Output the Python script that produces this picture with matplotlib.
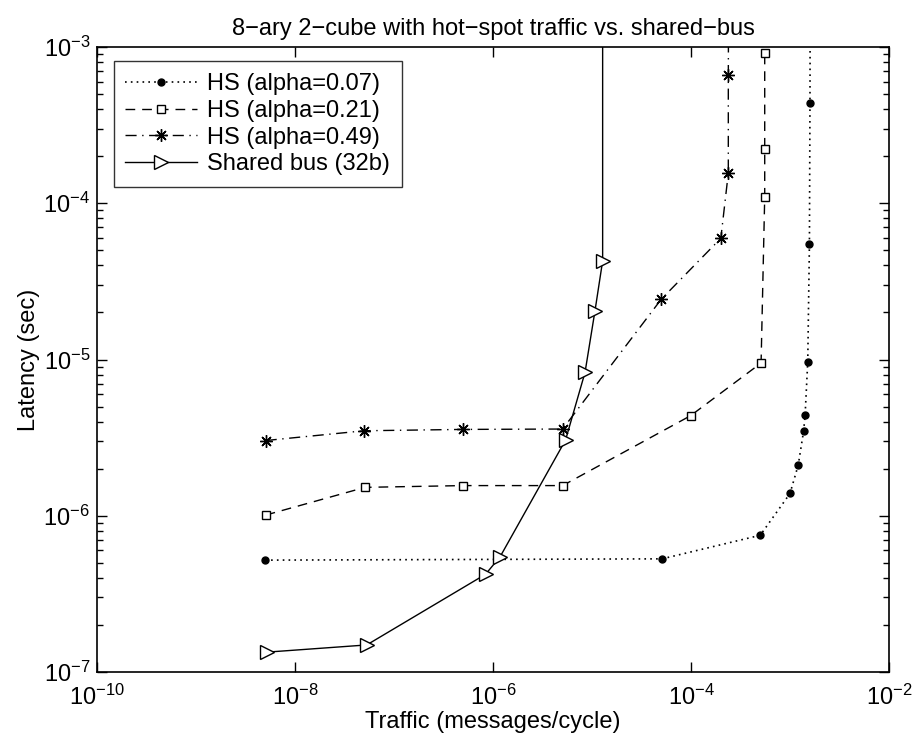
import matplotlib
matplotlib.use("Agg")
import matplotlib.pyplot as plt
from matplotlib.ticker import FixedLocator, LogLocator, NullLocator, LogFormatterMathtext

plt.rcParams['font.family'] = 'Liberation Sans'
plt.rcParams['mathtext.fontset'] = 'custom'
plt.rcParams['mathtext.rm'] = 'Liberation Sans'
plt.rcParams['mathtext.it'] = 'Liberation Sans'
plt.rcParams['axes.unicode_minus'] = True

# HS alpha=0.07
hs07_x = [5e-9, 5.1e-5, 5e-4, 1.0e-3, 1.21e-3, 1.37e-3, 1.42e-3, 1.51e-3, 1.57e-3, 1.59e-3, 1.6e-3]
hs07_y = [5.2e-7, 5.3e-7, 7.5e-7, 1.39e-6, 2.11e-6, 3.47e-6, 4.4e-6, 9.7e-6, 5.5e-5, 4.36e-4, 3e-3]
# HS alpha=0.21
hs21_x = [5.05e-9, 5.1e-8, 5.0e-7, 5.05e-6, 9.9e-5, 5.1e-4, 5.55e-4, 5.55e-4, 5.55e-4]
hs21_y = [1.01e-6, 1.52e-6, 1.56e-6, 1.56e-6, 4.37e-6, 9.5e-6, 1.1e-4, 2.22e-4, 9.2e-4]
# HS alpha=0.49
hs49_x = [5.05e-9, 5.0e-8, 5.0e-7, 5.05e-6, 5.0e-5, 2.0e-4, 2.38e-4, 2.38e-4, 2.4e-4]
hs49_y = [3.03e-6, 3.5e-6, 3.57e-6, 3.59e-6, 2.43e-5, 5.97e-5, 1.56e-4, 6.62e-4, 3e-3]
# Shared bus (32b)
bus_x = [5.2e-9, 5.3e-8, 8.4e-7, 1.18e-6, 5.4e-6, 8.5e-6, 1.07e-5, 1.28e-5, 1.28e-5]
bus_y = [1.34e-7, 1.49e-7, 4.22e-7, 5.47e-7, 3.05e-6, 8.28e-6, 2.04e-5, 4.28e-5, 1e-2]

x_ticks = [1e-10, 1e-8, 1e-6, 1e-4, 1e-2]
y_ticks = [1e-7, 1e-6, 1e-5, 1e-4, 1e-3]

FS = 17

fig = plt.figure(figsize=(9.17, 7.49), dpi=100)
ax = fig.add_axes([0.1058, 0.1028, 0.8637, 0.8344])

ax.plot(hs07_x, hs07_y, color='black', lw=1.2, dashes=(1, 2.5), marker='o',
        markersize=5, markerfacecolor='black', label='HS (alpha=0.07)')
ax.plot(hs21_x, hs21_y, color='black', lw=1.0, dashes=(7, 5), marker='s',
        markersize=6, markerfacecolor='white', markeredgewidth=1.0, label='HS (alpha=0.21)')
ax.plot(hs49_x, hs49_y, color='black', lw=1.0, dashes=(8, 4, 1, 4), marker=(8, 2, 0),
        markersize=9, markeredgewidth=1.0, label='HS (alpha=0.49)')
ax.plot(bus_x, bus_y, color='black', lw=1.0, linestyle='-', marker='>',
        markersize=10, markerfacecolor='white', markeredgewidth=1.0, label='Shared bus (32b)')

ax.set_xscale('log')
ax.set_yscale('log')
ax.set_xlim(1e-10, 1e-2)
ax.set_ylim(1e-7, 1e-3)

ax.xaxis.set_major_locator(FixedLocator(x_ticks))
ax.xaxis.set_major_formatter(LogFormatterMathtext())
ax.xaxis.set_minor_locator(NullLocator())
ax.yaxis.set_major_locator(FixedLocator(y_ticks))
ax.yaxis.set_major_formatter(LogFormatterMathtext())
ax.yaxis.set_minor_locator(LogLocator(base=10.0, subs=range(2, 10)))

ax.tick_params(which='both', direction='in', top=True, right=True, width=1.0)
ax.tick_params(which='major', length=7, labelsize=FS)
ax.tick_params(axis='x', which='major', pad=9)
ax.tick_params(axis='y', which='major', pad=5)
ax.tick_params(which='minor', length=4)
for s in ax.spines.values():
    s.set_linewidth(1.2)

ax.set_title('8\u2212ary 2\u2212cube with hot\u2212spot traffic vs. shared\u2212bus', fontsize=FS, pad=9)
ax.set_xlabel('Traffic (messages/cycle)', fontsize=FS, labelpad=1)
ax.set_ylabel('Latency (sec)', fontsize=FS, labelpad=2)

leg = ax.legend(loc='upper left', bbox_to_anchor=(0.021, 0.977), fontsize=FS, frameon=True,
                fancybox=False, handlelength=3.05, borderpad=0.5, labelspacing=0.2,
                handletextpad=0.42, borderaxespad=0)
leg.get_frame().set_edgecolor('black')
leg.get_frame().set_linewidth(1.0)

fig.savefig('out.png', dpi=100)
